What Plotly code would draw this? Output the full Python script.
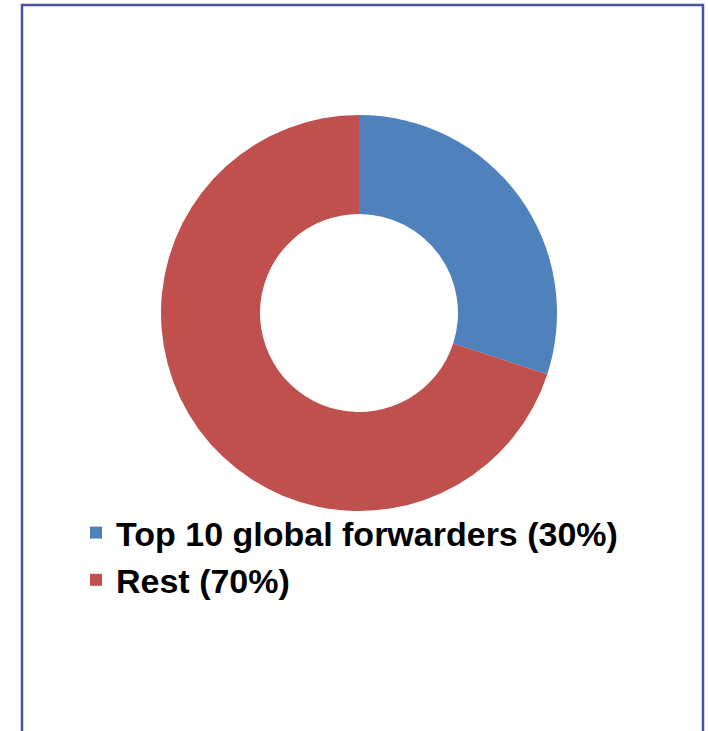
import plotly.graph_objects as go

labels = ["Top 10 global forwarders (30%)", "Rest (70%)"]
values = [30, 70]
colors = ["#4F81BD", "#C0504D"]

W, H = 708, 731

def px(x):
    return x / W

def py(y):
    return (H - y) / H

fig = go.Figure()
fig.add_trace(go.Pie(
    labels=labels,
    values=values,
    hole=0.5,
    sort=False,
    direction="clockwise",
    rotation=0,
    marker=dict(colors=colors, line=dict(width=0)),
    textinfo="none",
    domain=dict(x=[px(161), px(557)], y=[py(511), py(115)]),
))

fig.update_layout(
    width=W, height=H,
    margin=dict(l=0, r=0, t=0, b=0),
    paper_bgcolor="white",
    plot_bgcolor="white",
    showlegend=True,
    legend=dict(
        x=px(76), y=py(504),
        xanchor="left", yanchor="top",
        font=dict(family="Liberation Sans, Arial, sans-serif", size=34, color="black", weight="bold"),
        bgcolor="rgba(0,0,0,0)",
        tracegroupgap=0,
    ),
    shapes=[dict(
        type="rect", xref="paper", yref="paper",
        x0=px(22), x1=px(703), y0=-0.05, y1=py(5),
        line=dict(color="#4A4FA0", width=2.5),
        fillcolor="rgba(0,0,0,0)",
    )],
)

fig.write_html("out.html", config={"displayModeBar": False},
               post_script="document.body.style.margin='0px';")
